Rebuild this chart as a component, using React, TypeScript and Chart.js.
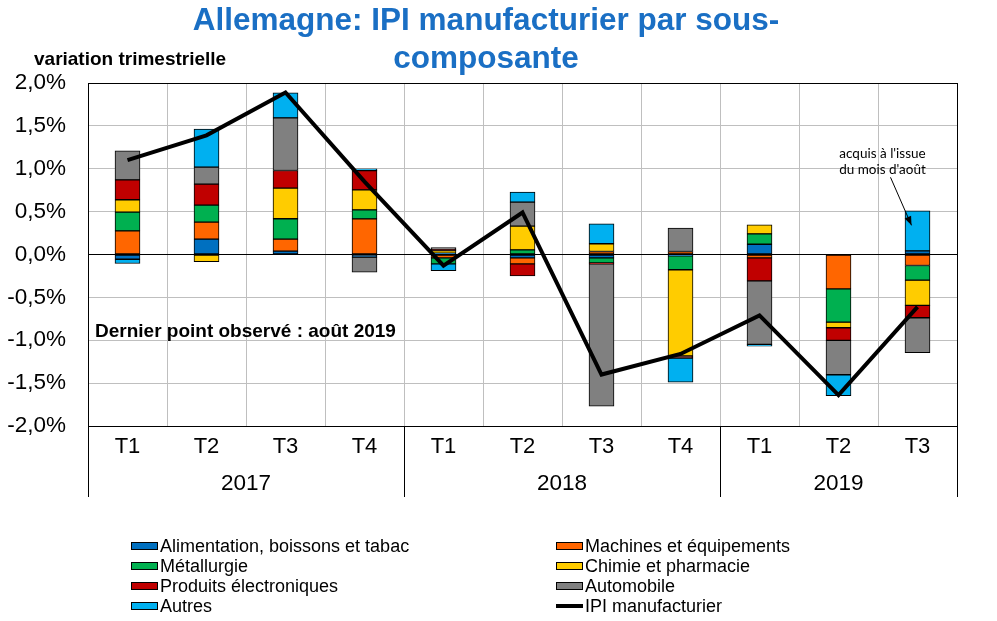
import React, { useEffect, useRef } from "react";
import { Chart, registerables } from "chart.js";

Chart.register(...registerables);

const quarters = ["T1", "T2", "T3", "T4", "T1", "T2", "T3", "T4", "T1", "T2", "T3"];
const years = ["2017", "2018", "2019"];
const yearBounds = [0, 4, 8, 11];

const alimentation = [-0.055, 0.18, 0.04, -0.03, 0.015, -0.04, -0.04, -0.015, 0.12, 0, 0.043];
const machines = [0.276, 0.198, 0.14, 0.416, -0.04, -0.07, 0.035, 0.035, -0.039, -0.4, -0.128];
const metallurgie = [0.218, 0.198, 0.237, 0.105, -0.07, 0.054, -0.058, -0.163, 0.12, -0.388, -0.171];
const chimie = [0.144, -0.085, 0.357, 0.233, 0.03, 0.276, 0.09, -1.006, 0.105, -0.066, -0.295];
const electroniques = [0.233, 0.245, 0.206, 0.225, 0.015, -0.14, -0.01, -0.023, -0.268, -0.148, -0.144];
const automobile = [0.338, 0.198, 0.614, -0.175, 0.02, 0.28, -1.66, 0.272, -0.742, -0.4, -0.408];
const autres = [-0.05, 0.443, 0.291, 0.02, -0.08, 0.117, 0.233, -0.283, -0.02, -0.245, 0.466];
const ipi = [1.1, 1.39, 1.89, 0.85, -0.13, 0.49, -1.4, -1.16, -0.71, -1.64, -0.61];

const seriesNames = [
  "Alimentation, boissons et tabac",
  "Machines et équipements",
  "Métallurgie",
  "Chimie et pharmacie",
  "Produits électroniques",
  "Automobile",
  "Autres",
];
const seriesColors = ["#0070c0", "#ff6600", "#00b050", "#ffcc00", "#c00000", "#808080", "#00b0f0"];
const seriesData = [alimentation, machines, metallurgie, chimie, electroniques, automobile, autres];
const lineName = "IPI manufacturier";

const titleLines = ["Allemagne: IPI manufacturier par sous-", "composante"];
const yTitle = "variation trimestrielle";
const noteText = "Dernier point observé : août 2019";
const annotLines = ["acquis à l'issue", "du mois d'août"];

const FONT = "'Liberation Sans', Arial, sans-serif";

const decorPlugin = {
  id: "decor",
  afterDraw(chart: any) {
    const { ctx, chartArea, scales } = chart;
    const xs = scales.x;
    const ys = scales.y;
    const { left, right, top, bottom } = chartArea;
    ctx.save();

    // plot border
    ctx.strokeStyle = "#000";
    ctx.lineWidth = 1;
    ctx.strokeRect(Math.round(left) + 0.5, Math.round(top) + 0.5, Math.round(right - left), Math.round(bottom - top));

    // group separators and year labels
    const sepBottom = bottom + 71;
    ctx.beginPath();
    yearBounds.forEach((b) => {
      const px = Math.round(xs.getPixelForValue(b - 0.5)) + 0.5;
      ctx.moveTo(px, bottom);
      ctx.lineTo(px, sepBottom);
    });
    ctx.stroke();
    ctx.fillStyle = "#000";
    ctx.font = `22.5px ${FONT}`;
    ctx.textAlign = "center";
    ctx.textBaseline = "middle";
    years.forEach((yr, i) => {
      const a = xs.getPixelForValue(yearBounds[i] - 0.5);
      const b = xs.getPixelForValue(yearBounds[i + 1] - 0.5);
      ctx.fillText(yr, (a + b) / 2, bottom + 58);
    });

    // title
    ctx.fillStyle = "#1a6fc4";
    ctx.font = `bold 31.5px ${FONT}`;
    ctx.fillText(titleLines[0], 486, 21);
    ctx.fillText(titleLines[1], 486, 59);

    // y title
    ctx.fillStyle = "#000";
    ctx.font = `bold 19px ${FONT}`;
    ctx.textAlign = "left";
    ctx.fillText(yTitle, 34, 60);

    // note
    ctx.font = `bold 19px ${FONT}`;
    ctx.fillText(noteText, left + 7, ys.getPixelForValue(-0.9));

    // annotation
    const ax = xs.getPixelForValue(10);
    ctx.font = `13.5px Lato, 'Open Sans', sans-serif`;
    ctx.textAlign = "center";
    ctx.fillText(annotLines[0], ax - 35, ys.getPixelForValue(1.18));
    ctx.fillText(annotLines[1], ax - 35, ys.getPixelForValue(0.99));
    const x0 = ax - 27, y0 = ys.getPixelForValue(0.9);
    const x1 = ax - 6, y1 = ys.getPixelForValue(0.34);
    ctx.beginPath();
    ctx.moveTo(x0, y0);
    ctx.lineTo(x1, y1);
    ctx.lineWidth = 1;
    ctx.stroke();
    const ang = Math.atan2(y1 - y0, x1 - x0);
    const hl = 9, hw = 3.5;
    ctx.beginPath();
    ctx.moveTo(x1, y1);
    ctx.lineTo(x1 - hl * Math.cos(ang) + hw * Math.sin(ang), y1 - hl * Math.sin(ang) - hw * Math.cos(ang));
    ctx.lineTo(x1 - hl * Math.cos(ang) - hw * Math.sin(ang), y1 - hl * Math.sin(ang) + hw * Math.cos(ang));
    ctx.closePath();
    ctx.fill();

    // legend
    const items = seriesNames.map((n, i) => ({ name: n, color: seriesColors[i], line: false }));
    items.push({ name: lineName, color: "#000", line: true });
    ctx.font = `18px ${FONT}`;
    ctx.textAlign = "left";
    ctx.textBaseline = "middle";
    items.forEach((it, i) => {
      const col = i % 2;
      const row = Math.floor(i / 2);
      const sx = col === 0 ? 131 : 556;
      const sy = 546 + row * 20;
      if (it.line) {
        ctx.fillStyle = "#000";
        ctx.fillRect(sx, sy - 2, 27, 4);
      } else {
        ctx.fillStyle = it.color;
        ctx.fillRect(sx, sy - 3.5, 27, 7);
        ctx.strokeStyle = "#000";
        ctx.lineWidth = 1;
        ctx.strokeRect(sx + 0.5, sy - 3.5, 26, 7);
      }
      ctx.fillStyle = "#000";
      ctx.fillText(it.name, sx + 29, sy + 1);
    });

    ctx.restore();
  },
};

export default function App() {
  const ref = useRef<HTMLCanvasElement | null>(null);
  useEffect(() => {
    if (!ref.current) return;
    const datasets: any[] = seriesData.map((d, i) => ({
      type: "bar",
      label: seriesNames[i],
      data: d,
      backgroundColor: seriesColors[i],
      borderColor: "#000",
      borderWidth: 1,
      borderSkipped: false,
      barThickness: 25,
      stack: "comp",
    }));
    datasets.push({
      type: "line",
      label: lineName,
      data: ipi,
      borderColor: "#000",
      borderWidth: 4,
      pointRadius: 0,
      tension: 0,
      stack: "ipi",
      order: -1,
    });
    const chart = new Chart(ref.current, {
      type: "bar",
      data: { labels: quarters, datasets },
      options: {
        animation: false,
        responsive: false,
        layout: { padding: { left: 0, top: 83, right: 40, bottom: 124 } },
        plugins: { legend: { display: false }, tooltip: { enabled: false }, title: { display: false } },
        scales: {
          x: {
            stacked: true,
            offset: true,
            grid: { color: "#bfbfbf", offset: true, drawTicks: false },
            border: { color: "#000" },
            ticks: { color: "#000", font: { size: 22, family: FONT }, padding: 8, maxRotation: 0 },
            afterFit: (s: any) => {
              s.height = 71;
            },
          },
          y: {
            stacked: true,
            min: -2,
            max: 2,
            grid: {
              color: (c: any) => (c.tick && c.tick.value === 0 ? "#000" : "#bfbfbf"),
              drawTicks: false,
            },
            border: { color: "#000" },
            ticks: {
              stepSize: 0.5,
              color: "#000",
              padding: 22,
              font: { size: 22.5, family: FONT },
              callback: (v: any) => (Math.abs(v) < 1e-9 ? 0 : v).toFixed(1).replace(".", ",") + "%",
            },
            afterFit: (s: any) => {
              s.width = 88;
            },
          },
        },
      },
      plugins: [decorPlugin],
    });
    return () => chart.destroy();
  }, []);
  return (
    <div style={{ position: "absolute", left: 0, top: 0, width: 997, height: 621, background: "#fff" }}>
      <canvas ref={ref} width={997} height={621} style={{ display: "block" }} />
    </div>
  );
}
